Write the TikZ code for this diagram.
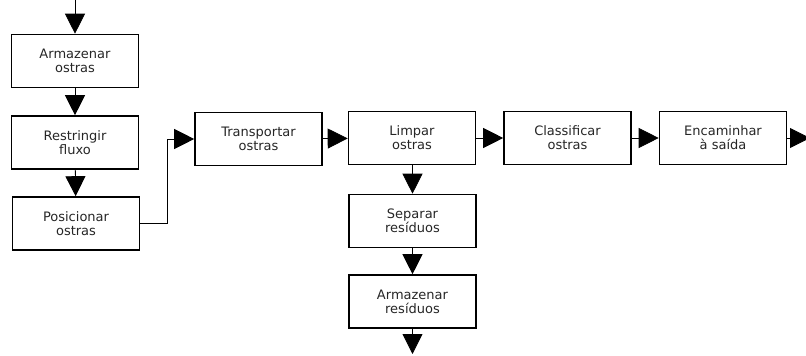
\documentclass[tikz,border=0pt]{standalone}
\usepackage{fontspec}
\setmainfont{DejaVu Sans}
\usetikzlibrary{arrows.meta, positioning}

\begin{document}
\begin{tikzpicture}[x=1pt, y=-1pt,
  box/.style={draw, line width=1.6pt, minimum width=127pt, minimum height=53pt,
    align=center, inner sep=0pt, font=\fontsize{13}{14}\selectfont, text=black!85},
  flow/.style={-{Triangle[length=20pt, width=20pt]}, line width=0.8pt}]
\useasboundingbox (0,0) rectangle (806,356);

% left column
\node[box] (armOst) at (75,61) {Armazenar\\ostras};
\node[box] (restr) at (75,142.5) {Restringir\\fluxo};
\node[box] (posic) at (76,223.5) {Posicionar\\ostras};

% main line
\node[box] (transp) at (258.5,139) {Transportar\\ostras};
\node[box] (limpar) at (412,138) {Limpar\\ostras};
\node[box] (classif) at (567.5,138) {Classificar\\ostras};
\node[box] (encam) at (723,138) {Encaminhar\\à saída};

% residues
\node[box] (separ) at (412.5,221) {Separar\\resíduos};
\node[box] (armRes) at (412.5,301.5) {Armazenar\\resíduos};

\coordinate (entrada) at (75,0);
\coordinate (saida) at (810,138);
\coordinate (fim) at (412.5,354);

\draw[flow] (entrada) -- (armOst);
\draw[flow] (armOst) -- (restr);
\draw[flow] (restr) -- (posic);
\draw[flow] (posic.east) -- ++(27,0) |- (transp.west);
\draw[flow] (transp) -- (limpar);
\draw[flow] (limpar) -- (classif);
\draw[flow] (classif) -- (encam);
\draw[flow] (encam) -- (saida);
\draw[flow] (limpar.south -| separ) -- (separ);
\draw[flow] (separ) -- (armRes);
\draw[flow] (armRes) -- (fim);
\end{tikzpicture}
\end{document}
